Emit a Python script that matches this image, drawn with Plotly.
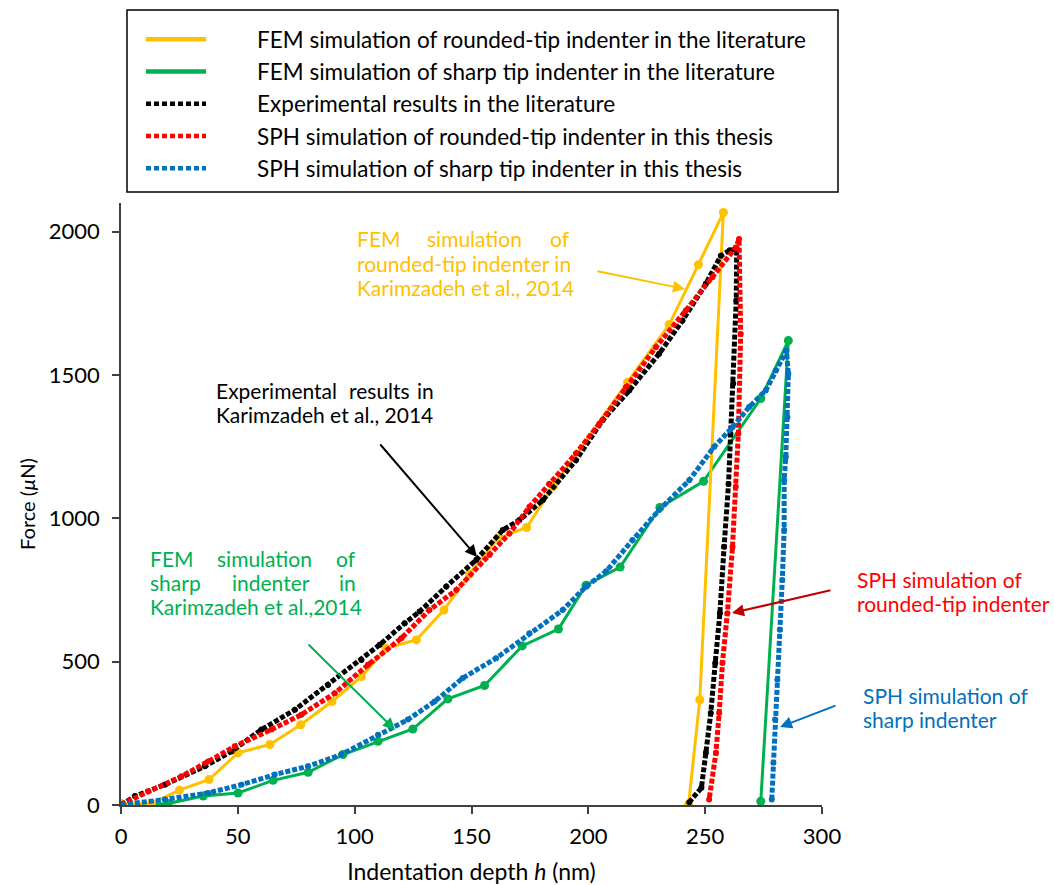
import plotly.graph_objects as go

# ---- data: indentation depth h (nm) vs force (µN) ----
# FEM simulation, rounded-tip indenter (literature)
fem_round_h = [0, 13, 25, 37.7, 50.1, 63.7, 76.9, 90.3, 102.9, 113.5, 126.4, 138.2, 149.1,
               161.2, 173.6, 185, 216.8, 234.6, 247.1, 257.8, 247.7, 242.9]
fem_round_f = [5, 5, 52, 89, 182, 211, 280, 361, 448, 547, 576, 680, 806,
               930, 968, 1112, 1475, 1676, 1885, 2067, 367, 2]

# FEM simulation, sharp tip indenter (literature)
fem_sharp_h = [0.3, 20.2, 35.2, 50.1, 65.1, 80.1, 95, 110, 124.9, 139.9, 155.6, 171.7,
               187.2, 199, 213.6, 230.6, 249.3, 273.8, 285.6, 273.8]
fem_sharp_f = [0, 5, 31, 42, 86, 114, 176, 222, 265, 370, 417, 555,
               614, 767, 830, 1038, 1129, 1418, 1620, 13]

# Experimental results (literature)
exp_h = [0, 6, 18.8, 35.9, 47.3, 60.1, 74.4, 88.6, 102.9, 110.7, 121.4, 127.8, 139.2, 152,
         163.4, 170.5, 180.5, 194.7, 206.1, 217.5, 230.3, 240.3, 250.3, 256.7, 260.5, 263.5,
         263.3, 262, 260.8, 260, 258.1, 256.3, 254.3, 252.4, 250.3, 248.4, 243.2]
exp_f = [0, 31, 71, 135, 187, 263, 332, 419, 506, 559, 634, 675, 762, 855,
         959, 994, 1063, 1203, 1342, 1446, 1574, 1690, 1818, 1916, 1935, 1940,
         1760, 1470, 1295, 1120, 901, 669, 495, 321, 182, 60, 10]

# SPH simulation, rounded-tip indenter (this thesis)
sph_round_h = [0, 11.7, 25.9, 37.3, 48.7, 64.4, 77.2, 91.5, 105.7, 120, 132, 143.5, 157.7,
               166.2, 174.8, 183.3, 194.7, 204.7, 216.1, 228.9, 241.7, 253.1, 263.1, 264.5,
               265.2, 264.2, 263.1, 261.7, 259.5, 257.4, 256, 254.6, 251.7]
sph_round_f = [2, 48, 100, 152, 205, 263, 315, 390, 489, 582, 680, 750, 872,
               947, 1040, 1121, 1226, 1330, 1458, 1597, 1725, 1841, 1945, 1974,
               1643, 1295, 1110, 901, 669, 495, 321, 182, 19]

# SPH simulation, sharp tip indenter (this thesis)
sph_sharp_h = [0, 18.8, 37.3, 51.6, 65.8, 80, 94.3, 110, 122.8, 134.2, 146.3, 160.5, 174.8,
               189, 199, 207.6, 218.9, 230.3, 243.2, 253.8, 261.7, 268.8, 275.9, 280.2, 284.8,
               285.6, 285.2, 284.5, 283.8, 283.8, 283, 282, 280.9, 279.9, 279.2, 278.5]
sph_sharp_f = [1, 19, 42, 71, 106, 135, 176, 245, 298, 361, 443, 512, 599,
               680, 762, 815, 924, 1029, 1133, 1249, 1318, 1388, 1446, 1516, 1585,
               1504, 1353, 1214, 1133, 959, 785, 611, 437, 298, 147, 19]

x_ticks = [0, 50, 100, 150, 200, 250, 300]
y_ticks = [0, 500, 1000, 1500, 2000]

legend_names = [
    "FEM simulation of rounded-tip indenter in the literature",
    "FEM simulation of sharp tip indenter in the literature",
    "Experimental results in the literature",
    "SPH simulation of rounded-tip indenter in this thesis",
    "SPH simulation of sharp tip indenter in this thesis",
]

YELLOW = "#FFC000"
GREEN = "#00B050"
RED = "#FF0000"
BLUE = "#0070C0"
DARKRED = "#C00000"
FONT = "Lato"
DOTS = "5px,2px"

fig = go.Figure()

# curves, drawn bottom to top
fig.add_trace(go.Scatter(x=fem_sharp_h, y=fem_sharp_f, mode="lines+markers",
                         line=dict(color=GREEN, width=3), marker=dict(color=GREEN, size=9),
                         showlegend=False))
fig.add_trace(go.Scatter(x=fem_round_h, y=fem_round_f, mode="lines+markers",
                         line=dict(color=YELLOW, width=3), marker=dict(color=YELLOW, size=9),
                         showlegend=False))
fig.add_trace(go.Scatter(x=exp_h, y=exp_f, mode="lines+markers",
                         line=dict(color="black", width=5, dash=DOTS),
                         marker=dict(color="black", size=6), showlegend=False))
fig.add_trace(go.Scatter(x=sph_round_h, y=sph_round_f, mode="lines+markers",
                         line=dict(color=RED, width=5, dash=DOTS),
                         marker=dict(color=RED, size=6), showlegend=False))
fig.add_trace(go.Scatter(x=sph_sharp_h, y=sph_sharp_f, mode="lines+markers",
                         line=dict(color=BLUE, width=5, dash=DOTS),
                         marker=dict(color=BLUE, size=6), showlegend=False))

# legend entries
legend_styles = [(YELLOW, "solid"), (GREEN, "solid"), ("black", "5px,3px"),
                 (RED, "5px,3px"), (BLUE, "5px,3px")]
pad = "\u00a0" * 8
for name, (color, dash) in zip(legend_names, legend_styles):
    fig.add_trace(go.Scatter(x=[None], y=[None], mode="lines", name=pad + name,
                             line=dict(color=color, width=4.5, dash=dash)))

L, R, T, B = 121, 232, 203, 80
W, H = 1054, 885
PW, PH = W - L - R, H - T - B


def paper(xp, yp):
    return (xp - L) / PW, (H - B - yp) / PH


annotations = []


def label(text, xp, yp, color, anchor="left", size=21):
    x, y = paper(xp, yp)
    annotations.append(dict(text=text, x=x, y=y, xref="paper", yref="paper",
                            xanchor=anchor, yanchor="middle", showarrow=False,
                            font=dict(family=FONT, size=size, color=color)))


def arrow(tail, head, color):
    x, y = paper(*head)
    annotations.append(dict(text="", x=x, y=y, xref="paper", yref="paper",
                            ax=tail[0] - head[0], ay=tail[1] - head[1],
                            showarrow=True, arrowhead=2, arrowsize=1.2, arrowwidth=2,
                            arrowcolor=color, standoff=0))


# FEM rounded-tip label (justified block)
label("FEM", 355, 239, YELLOW)
label("simulation", 474, 239, YELLOW, "center")
label("of", 572, 239, YELLOW, "right")
label("rounded-tip indenter in", 355, 263, YELLOW)
label("Karimzadeh et al., 2014", 355, 287, YELLOW)
arrow((596, 271), (685, 289), YELLOW)

# experimental label
label("Experimental", 214, 390, "black")
label("results", 379, 390, "black", "center")
label("in", 436, 390, "black", "right")
label("Karimzadeh et al., 2014", 214, 414, "black")
arrow((379, 443), (477, 557), "black")

# FEM sharp label
label("FEM", 148, 558, GREEN)
label("simulation", 264, 558, GREEN, "center")
label("of", 358, 558, GREEN, "right")
label("sharp", 148, 582, GREEN)
label("indenter", 271, 582, GREEN, "center")
label("in", 358, 582, GREEN, "right")
label("Karimzadeh et al.,2014", 148, 606, GREEN)
arrow((307, 643), (395, 730), GREEN)

# SPH labels
label("SPH simulation of", 855, 579, RED)
label("rounded-tip indenter", 855, 603, RED)
arrow((832, 590), (732, 613), DARKRED)

label("SPH simulation of", 861, 695, BLUE)
label("sharp indenter", 861, 719, BLUE)
arrow((837, 705), (780, 727), BLUE)

# legend frame
bx0, by0 = paper(127, 192)
bx1, by1 = paper(838, 10)
shapes = [dict(type="rect", xref="paper", yref="paper", x0=bx0, y0=by0, x1=bx1, y1=by1,
               line=dict(color="black", width=1.5), fillcolor="white", layer="below")]

axis_color = "#404040"
common_axis = dict(showline=True, linecolor=axis_color, linewidth=1.5, ticks="outside",
                   ticklen=7, tickwidth=1.5, tickcolor=axis_color, showgrid=False,
                   zeroline=False, automargin=False,
                   tickfont=dict(family=FONT, size=22, color="black"))

lx, ly = paper(141, 18)
fig.update_layout(
    width=W, height=H,
    margin=dict(l=L, r=R, t=T, b=B),
    plot_bgcolor="white", paper_bgcolor="white",
    font=dict(family=FONT, size=20, color="black"),
    xaxis=dict(range=[0, 300], tickvals=x_ticks,
               title=dict(text="Indentation depth <i>h</i> (nm)", font=dict(size=23), standoff=22),
               ticklabelstandoff=4, **common_axis),
    yaxis=dict(range=[0, 2100], tickvals=y_ticks,
               title=dict(text="Force (<i>µ</i>N)", font=dict(size=20), standoff=8),
               ticklabelstandoff=8, **common_axis),
    legend=dict(x=lx, y=ly, xanchor="left", yanchor="top",
                borderwidth=0, bgcolor="rgba(0,0,0,0)",
                font=dict(family=FONT, size=22.5, color="black"), itemwidth=60),
    shapes=shapes,
    annotations=annotations,
)

fig.write_html("out.html")
